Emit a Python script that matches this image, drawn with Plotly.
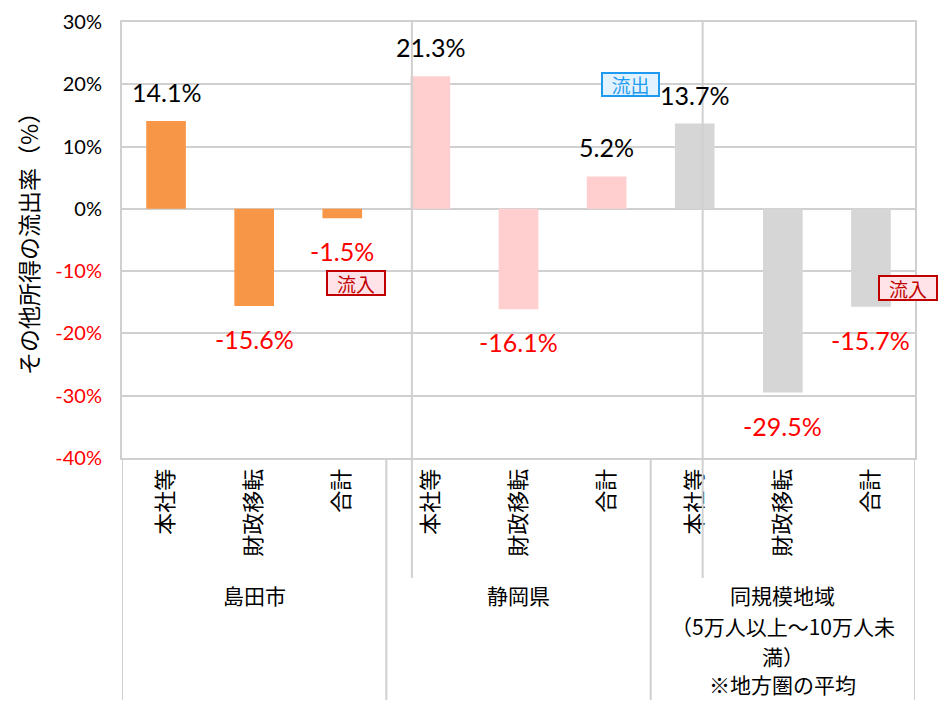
import plotly.graph_objects as go

# ---- data ----
categories = ["本社等", "財政移転", "合計"] * 3
groups = [["島田市"], ["静岡県"], ["同規模地域", "（5万人以上～10万人未", "満）", "※地方圏の平均"]]
values = [14.1, -15.6, -1.5, 21.3, -16.1, 5.2, 13.7, -29.5, -15.7]
group_colors = ["#F79646", "#FFCFCF", "#D6D6D6"]
y_ticks = [30, 20, 10, 0, -10, -20, -30, -40]

FONT = "Noto Sans CJK JP, Noto Sans, sans-serif"
NUMFONT = "Lato, Noto Sans CJK JP, sans-serif"
GRID = "#D0D0D0"

# page body has an 8px margin -> compensate so the plot area lands at x 122..915, y 22..458
OFF = 8
W, H = 947, 707
PL, PR, PT, PB = 122, 915, 22, 458

xs = list(range(len(values)))
bar_colors = [group_colors[i // 3] for i in xs]

fig = go.Figure()
fig.add_trace(go.Bar(x=xs, y=values, marker=dict(color=bar_colors, line=dict(width=0)),
                     width=0.45, hoverinfo="skip"))

# data labels
for x, v in zip(xs, values):
    fig.add_annotation(x=x, y=v, text=f"{v:.1f}%", showarrow=False,
                       yshift=29 if v >= 0 else -33,
                       font=dict(size=25, color="black" if v >= 0 else "#FF0000", family=NUMFONT))

# y tick labels (negative red)
ticktext = [f"{t}%" if t >= 0 else f'<span style="color:#FF0000">{t}%</span>' for t in y_ticks]

fig.update_layout(
    width=W - OFF, height=H - OFF,
    margin=dict(l=PL - OFF, r=W - PR, t=PT - OFF, b=H - PB, autoexpand=False),
    paper_bgcolor="white", plot_bgcolor="white",
    showlegend=False,
    font=dict(family=FONT, size=18, color="black"),
    xaxis=dict(range=[-0.5, 8.5], tickvals=xs, ticktext=categories, tickangle=-90,
               showgrid=False, zeroline=False, showline=True, linecolor=GRID, linewidth=2,
               mirror=True, ticks="", tickfont=dict(size=22, family=FONT), automargin=False),
    yaxis=dict(range=[-40, 30], tickvals=y_ticks, ticktext=ticktext,
               showgrid=True, gridcolor=GRID, gridwidth=2, zeroline=True, zerolinecolor=GRID,
               zerolinewidth=2, showline=True, linecolor=GRID, linewidth=2, mirror=True,
               ticks="", tickfont=dict(size=20, family=NUMFONT), automargin=False,
               ticklabelstandoff=14),
)

PW, PH = PR - PL, PB - PT
def px(x):
    return (x - PL) / PW
def py(y):
    return (PB - y) / PH

# y-axis title
fig.add_annotation(xref="paper", yref="paper", x=px(28), y=py(238), text="その他所得の流出率（%）",
                   textangle=-90, showarrow=False, font=dict(size=23, family=FONT),
                   xanchor="center", yanchor="middle")

# extended borders and separators below axis
line = dict(color=GRID, width=2)
ybot = py(700)
for xv in [-0.5, 8.5, 2.5, 5.5]:
    fig.add_shape(type="line", xref="x", yref="paper", x0=xv, x1=xv, y0=0, y1=ybot, line=line)
# stray vertical connector lines
ymid = py(578)
for xv in [2.79, 6.09]:
    fig.add_shape(type="line", xref="x", yref="paper", x0=xv, x1=xv, y0=1, y1=ymid, line=line, layer="above")

# group labels
line_y = [595, 626, 656, 684]
for gi, lines in enumerate(groups):
    for li, t in enumerate(lines):
        fig.add_annotation(x=gi * 3 + 1, xref="x", yref="paper", y=py(line_y[li]),
                           text=t, showarrow=False, font=dict(size=21, family=FONT),
                           xanchor="center", yanchor="middle", borderpad=0)

# callout boxes
fig.add_annotation(xref="paper", yref="paper", x=px(630), y=py(85), xanchor="center", yanchor="middle",
                   text="流出", showarrow=False, font=dict(size=19, color="#1E9BF0", family=FONT),
                   bgcolor="#E3F2FF", bordercolor="#1E9BF0", borderwidth=2, borderpad=0,
                   width=55, height=21)
for cx, cy in [(356, 283), (908, 288)]:
    fig.add_annotation(xref="paper", yref="paper", x=px(cx), y=py(cy), xanchor="center", yanchor="middle",
                       text="流入", showarrow=False, font=dict(size=19, color="#C00000", family=FONT),
                       bgcolor="#FFE3E8", bordercolor="#C00000", borderwidth=2, borderpad=0,
                       width=56, height=22)

fig.write_html("out.html")
